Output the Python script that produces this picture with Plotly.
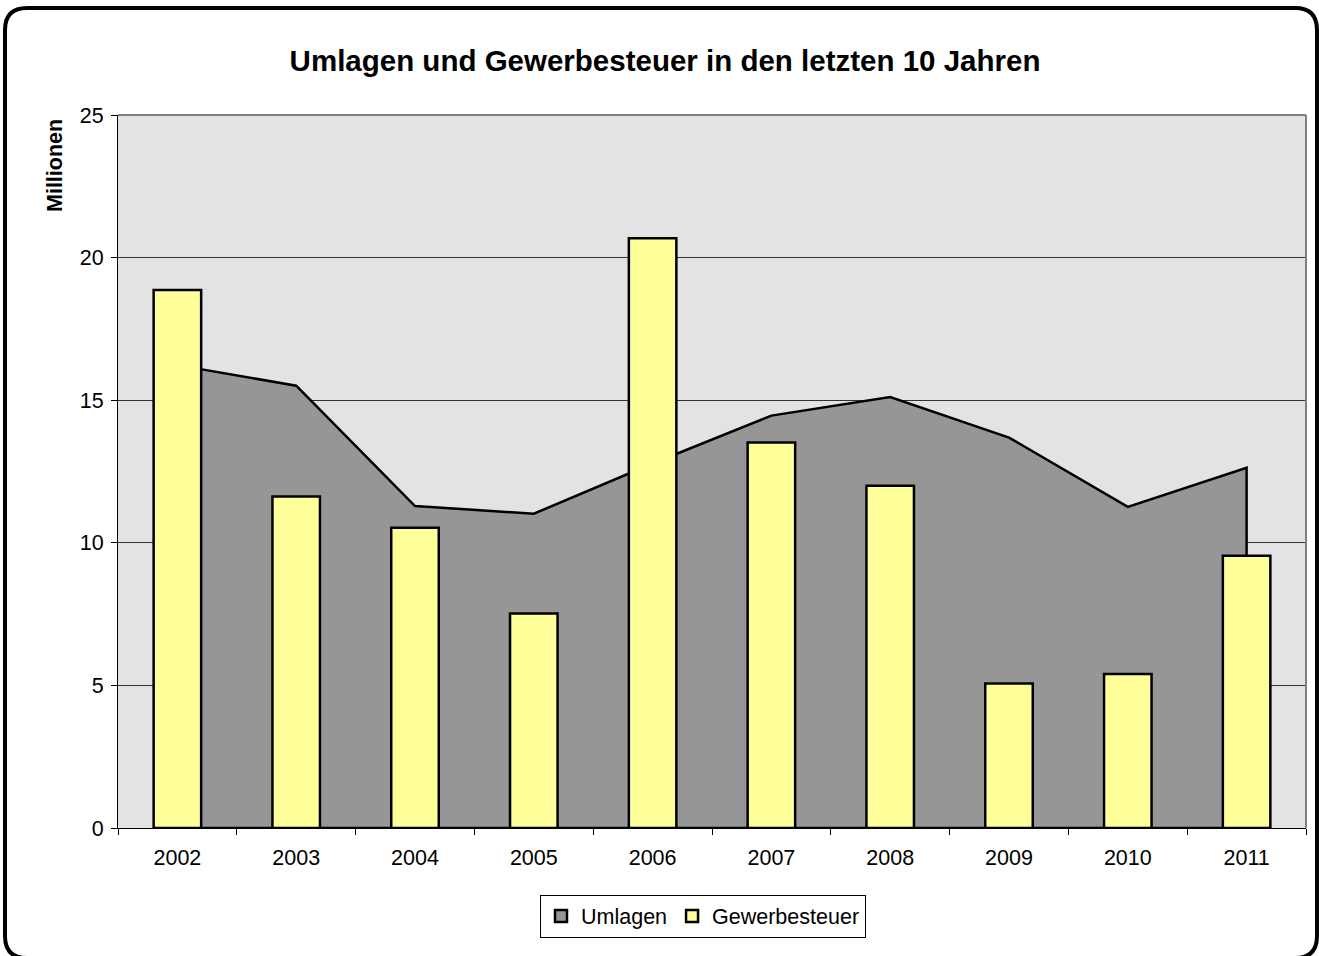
import plotly.graph_objects as go

years = ["2002", "2003", "2004", "2005", "2006", "2007", "2008", "2009", "2010", "2011"]
umlagen = [16.23, 15.51, 11.29, 11.02, 12.78, 14.46, 15.11, 13.69, 11.26, 12.63]
gewerbesteuer = [18.86, 11.62, 10.53, 7.52, 20.68, 13.52, 12.00, 5.07, 5.40, 9.55]

W, H = 1319, 956
L, R, T, B = 118, 1306, 115, 828  # plot area in pixels
FONT = "Liberation Sans, Arial, sans-serif"
FS = 21.5


def px(x, y):
    """pixel position -> paper coordinates"""
    return (x - L) / (R - L), (B - y) / (B - T)


fig = go.Figure()

# area: closed polygon so the right edge gets the outline too
fig.add_trace(go.Scatter(
    x=years + [years[-1], years[0]],
    y=umlagen + [0, 0],
    name="Umlagen", mode="lines", fill="toself", showlegend=False,
    fillcolor="#969696", line=dict(color="black", width=2.5),
    xaxis="x", yaxis="y",
))
# legend proxy so Umlagen gets a square swatch like the bars
fig.add_trace(go.Bar(
    x=[None], y=[None], name="Umlagen",
    marker=dict(color="#969696", line=dict(color="black", width=2.5)),
    xaxis="x2", yaxis="y2",
))

# bars on an overlaid axis pair so they sit above the area
fig.add_trace(go.Bar(
    x=years, y=gewerbesteuer, name="Gewerbesteuer",
    width=0.4, marker=dict(color="#FFFF99", line=dict(color="black", width=2.5)),
    xaxis="x2", yaxis="y2",
))

fig.update_layout(
    width=W, height=H,
    margin=dict(l=L, r=W - R, t=T, b=H - B),
    paper_bgcolor="white", plot_bgcolor="#E3E3E3",
    font=dict(family=FONT, size=FS, color="black"),
    title=dict(text="<b>Umlagen und Gewerbesteuer in den letzten 10 Jahren</b>",
               font=dict(size=29.5), x=665 / W, xref="container", xanchor="center",
               y=1 - 61 / H, yref="container", yanchor="middle"),
    showlegend=True, barmode="overlay",
    legend=dict(orientation="h", x=px(703, 0)[0], y=px(0, 916)[1],
                xanchor="center", yanchor="middle",
                bordercolor="black", borderwidth=1, bgcolor="white",
                font=dict(size=FS), itemwidth=30, traceorder="normal"),
    xaxis=dict(type="category", range=[-0.5, 9.5], showgrid=False,
               showline=True, linecolor="black", linewidth=1,
               ticks="outside", tickson="boundaries", ticklen=6, tickcolor="black",
               ticklabelstandoff=10),
    yaxis=dict(range=[0, 25], dtick=5, showgrid=True, gridcolor="#333333", gridwidth=1,
               zeroline=False, showline=True, linecolor="black", linewidth=1,
               ticks="outside", ticklen=6, tickcolor="black", ticklabelstandoff=3),
    xaxis2=dict(type="category", range=[-0.5, 9.5], overlaying="x", visible=False),
    yaxis2=dict(range=[0, 25], overlaying="y", visible=False),
)

# gray frame on top and right of the plot area
fig.add_shape(type="line", xref="paper", yref="paper", x0=0, x1=1, y0=1, y1=1,
              line=dict(color="#808080", width=2))
fig.add_shape(type="line", xref="paper", yref="paper", x0=1, x1=1, y0=0, y1=1,
              line=dict(color="#808080", width=2))

# y axis title placed near the top like the original
fig.add_annotation(text="<b>Millionen</b>", textangle=-90, showarrow=False,
                   xref="paper", yref="paper", x=px(55, 0)[0], y=px(0, 166)[1],
                   xanchor="center", yanchor="middle", font=dict(size=FS))

# rounded outer chart border
x0, y0, x1, y1, r = 5, 8, 1317, 958, 22
pts = {
    "a": px(x0 + r, y0), "b": px(x1 - r, y0), "c": px(x1, y0), "d": px(x1, y0 + r),
    "e": px(x1, y1 - r), "f": px(x1, y1), "g": px(x1 - r, y1), "h": px(x0 + r, y1),
    "i": px(x0, y1), "j": px(x0, y1 - r), "k": px(x0, y0 + r), "l": px(x0, y0),
}
p = lambda k: f"{pts[k][0]:.5f},{pts[k][1]:.5f}"
path = (f"M {p('a')} L {p('b')} Q {p('c')} {p('d')} L {p('e')} Q {p('f')} {p('g')} "
        f"L {p('h')} Q {p('i')} {p('j')} L {p('k')} Q {p('l')} {p('a')} Z")
fig.add_shape(type="path", path=path, xref="paper", yref="paper",
              line=dict(color="black", width=4))

# drop the default body margin so the figure sits at the window origin
fig.write_html("out.html", config={"displayModeBar": False},
               post_script="document.body.style.margin='0';document.body.style.overflow='hidden';")
